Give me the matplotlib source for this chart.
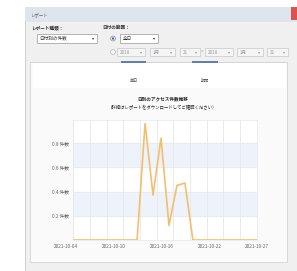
import numpy as np
from matplotlib import pyplot as plt
from matplotlib.patches import Rectangle, Circle
from matplotlib.transforms import ScaledTranslation

plt.rcParams['font.family'] = ['Noto Sans CJK JP', 'DejaVu Sans']

# chart data
days = ['2021-10-04', '2021-10-05', '2021-10-06', '2021-10-07', '2021-10-08', '2021-10-09',
        '2021-10-10', '2021-10-11', '2021-10-12', '2021-10-13', '2021-10-14', '2021-10-15',
        '2021-10-16', '2021-10-17', '2021-10-18', '2021-10-19', '2021-10-20', '2021-10-21',
        '2021-10-22', '2021-10-23', '2021-10-24', '2021-10-25', '2021-10-26', '2021-10-27']
counts = [0, 0, 0, 0, 0, 0, 0, 0, 0, 0.96, 0.37, 0.84, 0.12, 0.45, 0.47, 0,
          0, 0, 0, 0, 0, 0, 0, 0]
label_idx = [0, 6, 12, 18, 23]
ytick_vals = [0.2, 0.4, 0.6, 0.8]
ytick_labels = ['0.2 件数', '0.4 件数', '0.6 件数', '0.8 件数']

W, H = 297, 271
fig = plt.figure(figsize=(W / 100, H / 100), dpi=100)

# dialog drawn in pixel coords
bg = fig.add_axes([0, 0, 1, 1])
bg.set_xlim(0, W)
bg.set_ylim(H, 0)
bg.axis('off')


def rect(x0, y0, x1, y1, fc, ec='none', lw=0.6, z=1):
    bg.add_patch(Rectangle((x0, y0), x1 - x0, y1 - y0, fc=fc, ec=ec, lw=lw, zorder=z))


def txt(x, y, s, size=3.3, color='#333333', ha='left', weight='normal'):
    bg.text(x, y, s, fontsize=size, color=color, ha=ha, va='center', weight=weight, zorder=5)


def combo(x0, x1, y0, y1, s, enabled=True):
    rect(x0, y0, x1, y1, '#ffffff' if enabled else '#f5f5f5',
         '#a8a8a8' if enabled else '#cfcfcf', z=2)
    c = '#333333' if enabled else '#9a9a9a'
    txt(x0 + 2.5, (y0 + y1) / 2, s, color=c)
    txt(x1 - 2.5, (y0 + y1) / 2, '▾', size=3.0, color=c, ha='right')


# window
rect(25, 7, 300, 275, '#f0f0f0', '#c4c8ce', z=0)
rect(25, 7, 300, 22, '#dfe5ec', z=1)
rect(291, 7, 300, 20, '#d9534f', z=2)
txt(30, 14.5, 'レポート', size=3.2, color='#666666')

txt(31, 28, 'レポート種類：', size=3.3, weight='bold')
txt(102, 27, '日付の範囲：', size=3.3, weight='bold')
combo(37, 97, 34, 43, '日付別の件数')

bg.add_patch(Circle((113, 38.5), 2.4, fc='#ffffff', ec='#8a8a8a', lw=0.5, zorder=3))
bg.add_patch(Circle((113, 38.5), 1.3, fc='#3c78c8', zorder=4))
combo(120, 158, 33.5, 43, '全日')

bg.add_patch(Circle((113, 52), 2.4, fc='#f5f5f5', ec='#b5b5b5', lw=0.5, zorder=3))
combo(117, 145, 48, 56, '2018', False)
combo(150, 175, 48, 56, '1月', False)
combo(180, 200, 48, 56, '21', False)
txt(202.5, 52, '~', color='#9a9a9a', ha='center')
combo(205, 233, 48, 56, '2018', False)
combo(237, 263, 48, 56, '1月', False)
combo(267, 288, 48, 56, '21', False)

# tab panel
rect(30, 62, 287, 262, '#fafafa', '#d4d4d4', z=1)
rect(33, 62.5, 286, 88, '#ffffff', z=1)
bg.plot([30, 287], [62, 62], color='#d4d4d4', lw=0.6, zorder=2)
bg.plot([122, 145], [62, 62], color='#5b7fb2', lw=1.4, zorder=3)
bg.plot([193, 217], [62, 62], color='#5b7fb2', lw=1.4, zorder=3)
txt(133.5, 81, '単日', size=3.0, color='#555555', ha='center')
txt(205, 81, '期間', size=3.0, color='#555555', ha='center')

txt(163, 98.5, '日別のアクセス件数推移', size=3.3, color='#222222', ha='center', weight='bold')
txt(163, 107, '（詳細はレポートをダウンロードしてご確認ください）', size=3.2,
    color='#222222', ha='center')

# chart
ax = fig.add_axes([73.3 / W, 1 - 240 / H, 183.4 / W, 120 / H])
x = np.arange(len(days))
ax.set_facecolor('#ffffff')
ax.axhspan(0.2, 0.4, color='#eef2fa', zorder=0)
ax.axhspan(0.6, 0.8, color='#eef2fa', zorder=0)
for gx in np.linspace(0, len(days) - 1, 12):
    ax.axvline(gx, color='#e6e8ec', lw=0.6, zorder=1)
for gy in ytick_vals:
    ax.axhline(gy, color='#e6e8ec', lw=0.5, zorder=1)
ax.plot(x, counts, color='#f4be6c', lw=1.2, zorder=3)
ax.set_xlim(0, len(days) - 1)
ax.set_ylim(0, 0.99)
ax.set_yticks(ytick_vals)
ax.set_yticklabels(ytick_labels)
ax.set_xticks(label_idx)
ax.set_xticklabels([days[i] for i in label_idx])
ax.tick_params(length=0, labelsize=3.4, colors='#666666', pad=3)
shift = ScaledTranslation(-7 / 100, 0, fig.dpi_scale_trans)
for lab in ax.get_xticklabels()[:-1]:
    lab.set_transform(lab.get_transform() + shift)
for s in ax.spines.values():
    s.set_color('#e6e8ec')
    s.set_linewidth(0.5)

fig.savefig('out.png', dpi=100)
